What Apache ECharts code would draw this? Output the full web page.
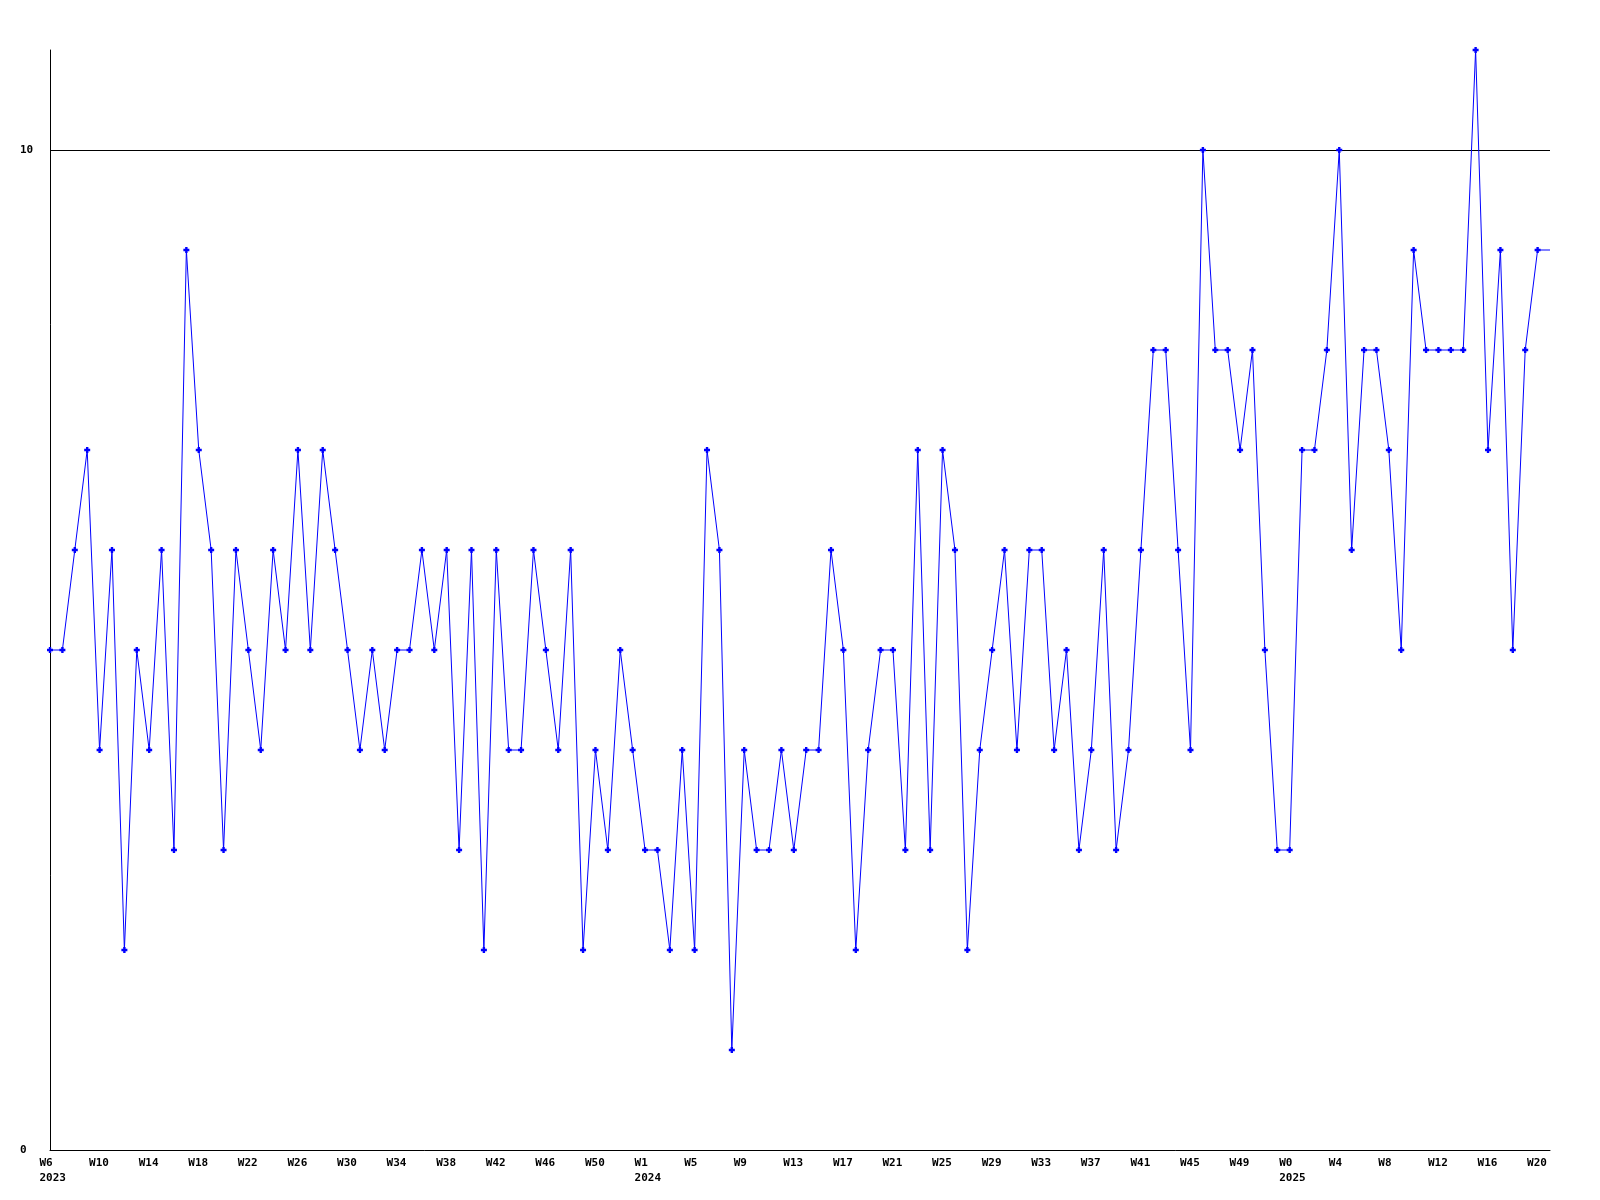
<!DOCTYPE html>
<html>
<head>
<meta charset="utf-8">
<script src="https://cdn.jsdelivr.net/npm/echarts@6/dist/echarts.min.js"></script>
<style>
html,body{margin:0;padding:0;background:#fff;}
#chart{width:1600px;height:1200px;}
</style>
</head>
<body>
<div id="chart"></div>
<script>
// Week labels per year segment
const weeks2023 = ['W6','W7','W8','W9','W10','W11','W12','W13','W14','W15','W16','W17','W18','W19','W20','W21','W22','W23','W24','W25','W26','W27','W28','W29','W30','W31','W32','W33','W34','W35','W36','W37','W38','W39','W40','W41','W42','W43','W44','W45','W46','W47','W48','W49','W50','W51','W52','W53'];
const weeks2024 = ['W1','W2','W3','W4','W5','W6','W7','W8','W9','W10','W11','W12','W13','W14','W15','W16','W17','W18','W19','W20','W21','W22','W23','W24','W25','W26','W27','W28','W29','W30','W31','W32','W33','W34','W35','W36','W37','W38','W39','W40','W41','W42','W43','W44','W45','W46','W47','W48','W49','W50','W51','W52'];
const weeks2025 = ['W0','W1','W2','W3','W4','W5','W6','W7','W8','W9','W10','W11','W12','W13','W14','W15','W16','W17','W18','W19','W20','W21'];
const yearLabels = ['2023','2024','2025'];

// Series values (one per week)
const values2023 = [5,5,6,7,4,6,2,5,4,6,3,9,7,6,3,6,5,4,6,5,7,5,7,6,5,4,5,4,5,5,6,5,6,3,6,2,6,4,4,6,5,4,6,2,4,3,5,4];
const values2024 = [3,3,2,4,2,7,6,1,4,3,3,4,3,4,4,6,5,2,4,5,5,3,7,3,7,6,2,4,5,6,4,6,6,4,5,3,4,6,3,4,6,8,8,6,4,10,8,8,7,8,5,3];
const values2025 = [3,7,7,8,10,6,8,8,7,5,9,8,8,8,8,11,7,9,5,8,9,9];

const yTicks = [0, 10];

const categories = [];
const yearStart = {};
[[weeks2023, yearLabels[0]], [weeks2024, yearLabels[1]], [weeks2025, yearLabels[2]]].forEach(([ws, y]) => {
  yearStart[categories.length] = y;
  ws.forEach(w => categories.push(w));
});
const values = values2023.concat(values2024, values2025);
const lastIdx = values.length - 1;

const chart = echarts.init(document.getElementById('chart'), null, {renderer: 'canvas'});
const font = 'DejaVu Sans Mono';
chart.setOption({
  backgroundColor: '#ffffff',
  animation: false,
  grid: {left: 50, right: 50, top: 50, bottom: 50, containLabel: false},
  xAxis: {
    type: 'category',
    data: categories,
    boundaryGap: false,
    axisLine: {lineStyle: {color: '#000', width: 1}},
    axisTick: {show: false},
    axisLabel: {
      interval: 3,
      margin: 6,
      align: 'center',
      color: '#000',
      fontFamily: font,
      fontWeight: 'bold',
      fontSize: 11,
      lineHeight: 15,
      formatter: function (val, idx) {
        let s = '{w|' + val + '}';
        if (yearStart[idx] !== undefined) s += '\n{w|' + yearStart[idx] + '}';
        return s;
      },
      rich: {
        w: {width: 21, align: 'left', color: '#000', fontFamily: font, fontWeight: 'bold', fontSize: 11, lineHeight: 15}
      }
    },
    splitLine: {show: false}
  },
  yAxis: {
    type: 'value',
    min: yTicks[0],
    max: 11,
    interval: yTicks[1] - yTicks[0],
    axisLine: {show: true, lineStyle: {color: '#000', width: 1}},
    axisTick: {show: false},
    axisLabel: {
      margin: 30,
      align: 'left',
      showMaxLabel: false,
      color: '#000',
      fontFamily: font,
      fontWeight: 'bold',
      fontSize: 11
    },
    splitLine: {show: true, showMinLine: false, showMaxLine: false, lineStyle: {color: '#000', width: 1}}
  },
  series: [{
    type: 'line',
    data: values,
    symbol: 'path://M1.5,0H3.5V1.5H5V3.5H3.5V5H1.5V3.5H0V1.5H1.5Z',
    symbolSize: function (v, p) { return p.dataIndex === lastIdx ? 0 : 6; },
    showAllSymbol: true,
    lineStyle: {color: '#0000ff', width: 1},
    itemStyle: {color: '#0000ff'},
    emphasis: {disabled: true}
  }]
});
</script>
</body>
</html>
